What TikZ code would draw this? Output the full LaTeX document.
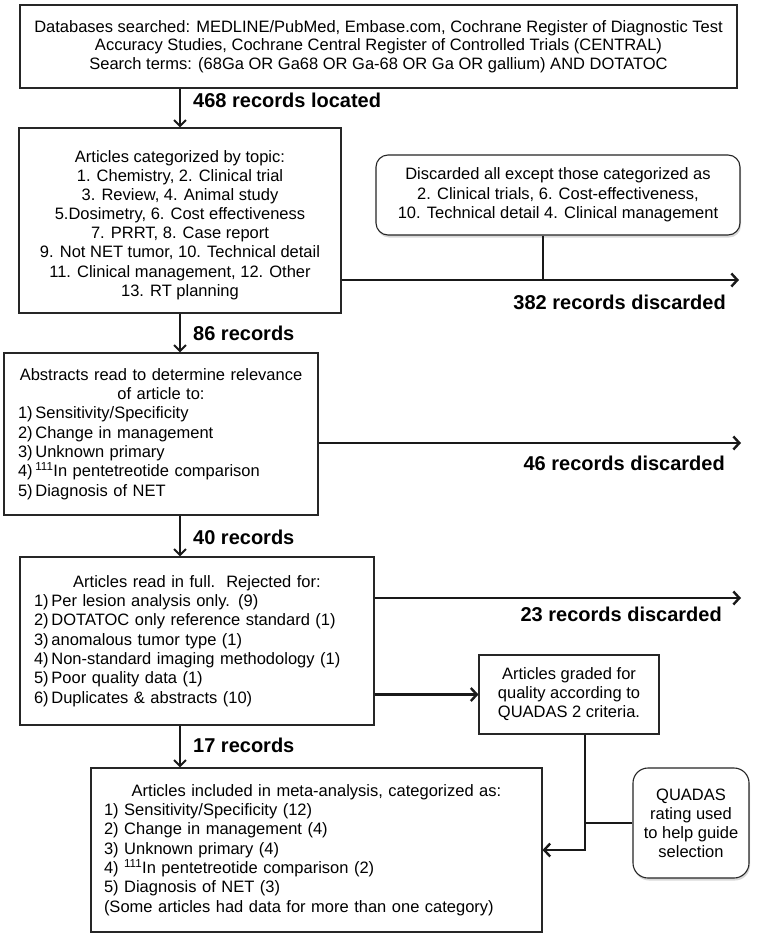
\documentclass[tikz,border=0pt]{standalone}
\usepackage{fontspec}
\setmainfont{Liberation Sans}
\usetikzlibrary{arrows.meta,shadows,calc}
\begin{document}
\begin{tikzpicture}[x=1pt,y=-1pt,
  box/.style={draw=black!85, line width=1.1pt, inner sep=0pt, font=\fontsize{16.5}{19.3}\selectfont},
  cbox/.style={box, align=center},
  lbox/.style={box, align=left, inner xsep=14pt},
  rbox/.style={box, align=center, fill=white, rounded corners=12pt,
     drop shadow={shadow xshift=1pt, shadow yshift=-2.5pt, opacity=0.3}},
  txt/.style={inner sep=0pt, align=center, font=\fontsize{16.5}{19.1}\selectfont},
  conn/.style={line width=2.4pt, draw=black!90},
  arr/.style={conn, -{Straight Barb[length=6pt,width=13pt]}},
  darr/.style={line width=2pt, draw=black!90, -{Straight Barb[length=6pt,width=12pt]}},
  lab/.style={font=\fontsize{20}{22}\selectfont\bfseries, inner sep=0pt},
]
\useasboundingbox (0,0) rectangle (757,937);
\fill[white] (0,0) rectangle (757,937);

% boxes
\node[cbox, minimum width=717pt, minimum height=83pt, font=\fontsize{16.5}{18.5}\selectfont] (b1) at (378.5,46.5)
 {Databases searched: MEDLINE/PubMed, Embase.com, Cochrane Register of Diagnostic Test\\
  Accuracy Studies, Cochrane Central Register of Controlled Trials (CENTRAL)\\
  Search terms: (68Ga OR Ga68 OR Ga-68 OR Ga OR gallium) AND DOTATOC};

\node[box, minimum width=322pt, minimum height=185pt] (b2) at (180,220.5) {};
\node[txt] (b2t) at (180,225)
 {Articles categorized by topic:\\
  1. Chemistry, 2. Clinical trial\\
  3. Review, 4. Animal study\\
  5.Dosimetry, 6. Cost effectiveness\\
  7. PRRT, 8. Case report\\
  9. Not NET tumor, 10. Technical detail\\
  11. Clinical management, 12. Other\\
  13. RT planning};

\node[rbox, minimum width=364pt, minimum height=80pt] (disc) at (558,195)
 {Discarded all except those categorized as\\
  2. Clinical trials, 6. Cost-effectiveness,\\
  10. Technical detail 4. Clinical management};

\node[lbox, text width=286pt, minimum height=162pt] (b3) at (161,434)
 {\makebox[\hsize][c]{Abstracts read to determine relevance}\\
  \makebox[\hsize][c]{of article to:}\\
  1)\,Sensitivity/Specificity\\
  2)\,Change in management\\
  3)\,Unknown primary\\
  4)\,\textsuperscript{111}In pentetreotide comparison\\
  5)\,Diagnosis of NET};

\node[lbox, text width=326pt, minimum height=168pt] (b4) at (197,641)
 {\makebox[\hsize][c]{Articles read in full.\ \ Rejected for:}\\
  1)\,Per lesion analysis only. (9)\\
  2)\,DOTATOC only reference standard (1)\\
  3)\,anomalous tumor type (1)\\
  4)\,Non-standard imaging methodology (1)\\
  5)\,Poor quality data (1)\\
  6)\,Duplicates \& abstracts (10)};

\node[cbox, minimum width=180pt, minimum height=79pt, font=\fontsize{16.5}{19}\selectfont] (grade) at (569,694.5)
 {Articles graded for\\quality according to\\QUADAS 2 criteria.};

\node[lbox, inner xsep=13pt, text width=425pt, minimum height=164pt] (b5) at (316.5,850)
 {\makebox[\hsize][c]{Articles included in meta-analysis, categorized as:}\\
  1) Sensitivity/Specificity (12)\\
  2) Change in management (4)\\
  3) Unknown primary (4)\\
  4) \textsuperscript{111}In pentetreotide comparison (2)\\
  5) Diagnosis of NET (3)\\
  (Some articles had data for more than one category)};

\node[rbox, rounded corners=15pt, minimum width=116pt, minimum height=110pt, font=\fontsize{16.5}{19}\selectfont] (quad) at (691,823)
 {QUADAS\\rating used\\to help guide\\selection};

% coordinates
\coordinate (ax) at (180,0);
\coordinate (v1) at (543,280);
\coordinate (d1) at (739,280);
\coordinate (d2) at (741,443);
\coordinate (d3) at (741,598);
\coordinate (j) at (585,850);

% main down arrows
\draw[darr] (b1.south -| ax) -- (b2.north -| ax);
\draw[darr] (b2.south -| ax) -- (b3.north -| ax);
\draw[darr] (b3.south -| ax) -- (b4.north -| ax);
\draw[darr] (b4.south -| ax) -- (b5.north -| ax);

\node[lab, anchor=west] (l1) at (193,100) {468 records located};
\node[lab, anchor=west] (l2) at (193,333) {86 records};
\node[lab, anchor=west] (l3) at (193,537) {40 records};
\node[lab, anchor=west] (l4) at (193,745) {17 records};

% discards
\draw[arr] (d1 -| b2.east) -- (d1);
\draw[conn] (v1 |- disc.south) -- (v1);
\node[lab, anchor=east] (l5) at (726,302) {382 records discarded};

\draw[arr] (d2 -| b3.east) -- (d2);
\node[lab, anchor=east] (l6) at (725,463) {46 records discarded};

\draw[arr] (d3 -| b4.east) -- (d3);
\node[lab, anchor=east] (l7) at (722,614) {23 records discarded};

% quality grading
\draw[arr] (grade.west -| b4.east) -- (grade.west);
\draw[arr] (j |- grade.south) -- (j) -- (j -| b5.east);
\draw[conn] (quad.west) -- (quad.west -| j);

\end{tikzpicture}
\end{document}
